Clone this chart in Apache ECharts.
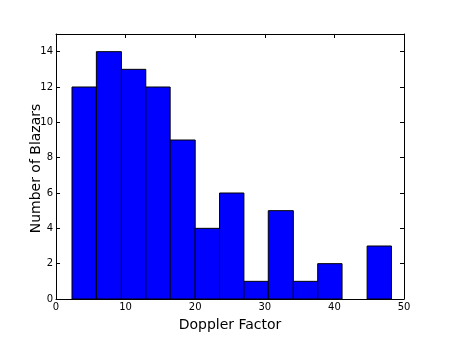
<!DOCTYPE html>
<html><head><meta charset="utf-8">
<script src="https://cdn.jsdelivr.net/npm/echarts@6/dist/echarts.min.js"></script>
<style>html,body{margin:0;padding:0;background:#fff}#c{width:450px;height:337px}</style>
</head><body><div id="c"></div>
<script>
const binEdges = [2.3, 5.8, 9.4, 12.9, 16.4, 20.0, 23.5, 27.0, 30.5, 34.1, 37.6, 41.1, 44.7, 48.2];
const counts = [12, 14, 13, 12, 9, 4, 6, 1, 5, 1, 2, 0, 3];
const xTicks = [0, 10, 20, 30, 40, 50];
const yTicks = [0, 2, 4, 6, 8, 10, 12, 14];
const xTitle = 'Doppler Factor';
const yTitle = 'Number of Blazars';

const data = counts.map((c, i) => [binEdges[i], binEdges[i + 1], c]);
const font = 'DejaVu Sans';
const chart = echarts.init(document.getElementById('c'), null, {renderer: 'canvas'});
const axisCommon = {
  axisLine: {show: true, onZero: false, lineStyle: {color: '#000', width: 1}},
  axisTick: {show: true, inside: true, length: 4, lineStyle: {color: '#000'}},
  splitLine: {show: false}
};
chart.setOption({
  animation: false,
  grid: {left: 56, right: 46, top: 34, bottom: 34},
  graphic: [{
    type: 'text', left: 29, top: 'middle', rotation: Math.PI / 2,
    style: {text: yTitle, font: '14px "DejaVu Sans"', fill: '#000'}
  }],
  xAxis: [
    Object.assign({type: 'value', min: 0, max: 50, interval: 10, position: 'bottom',
      name: xTitle, nameLocation: 'middle', nameGap: 19,
      nameTextStyle: {fontFamily: font, fontSize: 14, color: '#000'},
      axisLabel: {fontFamily: font, fontSize: 10, color: '#000', margin: 3,
        formatter: v => xTicks.includes(v) ? String(v) : ''}}, axisCommon),
    Object.assign({type: 'value', min: 0, max: 50, interval: 10, position: 'top',
      axisLabel: {show: false}}, axisCommon)
  ],
  yAxis: [
    Object.assign({type: 'value', min: 0, max: 15, interval: 2, position: 'left',
      axisLabel: {fontFamily: font, fontSize: 10, color: '#000', margin: 3,
        formatter: v => yTicks.includes(v) ? String(v) : ''}}, axisCommon),
    Object.assign({type: 'value', min: 0, max: 15, interval: 2, position: 'right',
      axisLabel: {show: false}}, axisCommon)
  ],
  series: [{
    type: 'custom',
    renderItem: function (params, api) {
      if (api.value(2) <= 0) return null;
      const p0 = api.coord([api.value(0), 0]);
      const p1 = api.coord([api.value(1), api.value(2)]);
      return {
        type: 'rect',
        shape: {x: p0[0], y: p1[1], width: p1[0] - p0[0], height: p0[1] - p1[1]},
        style: {fill: '#0000ff', stroke: '#000', lineWidth: 1}
      };
    },
    encode: {x: [0, 1], y: 2},
    data: data
  }]
});
</script></body></html>
